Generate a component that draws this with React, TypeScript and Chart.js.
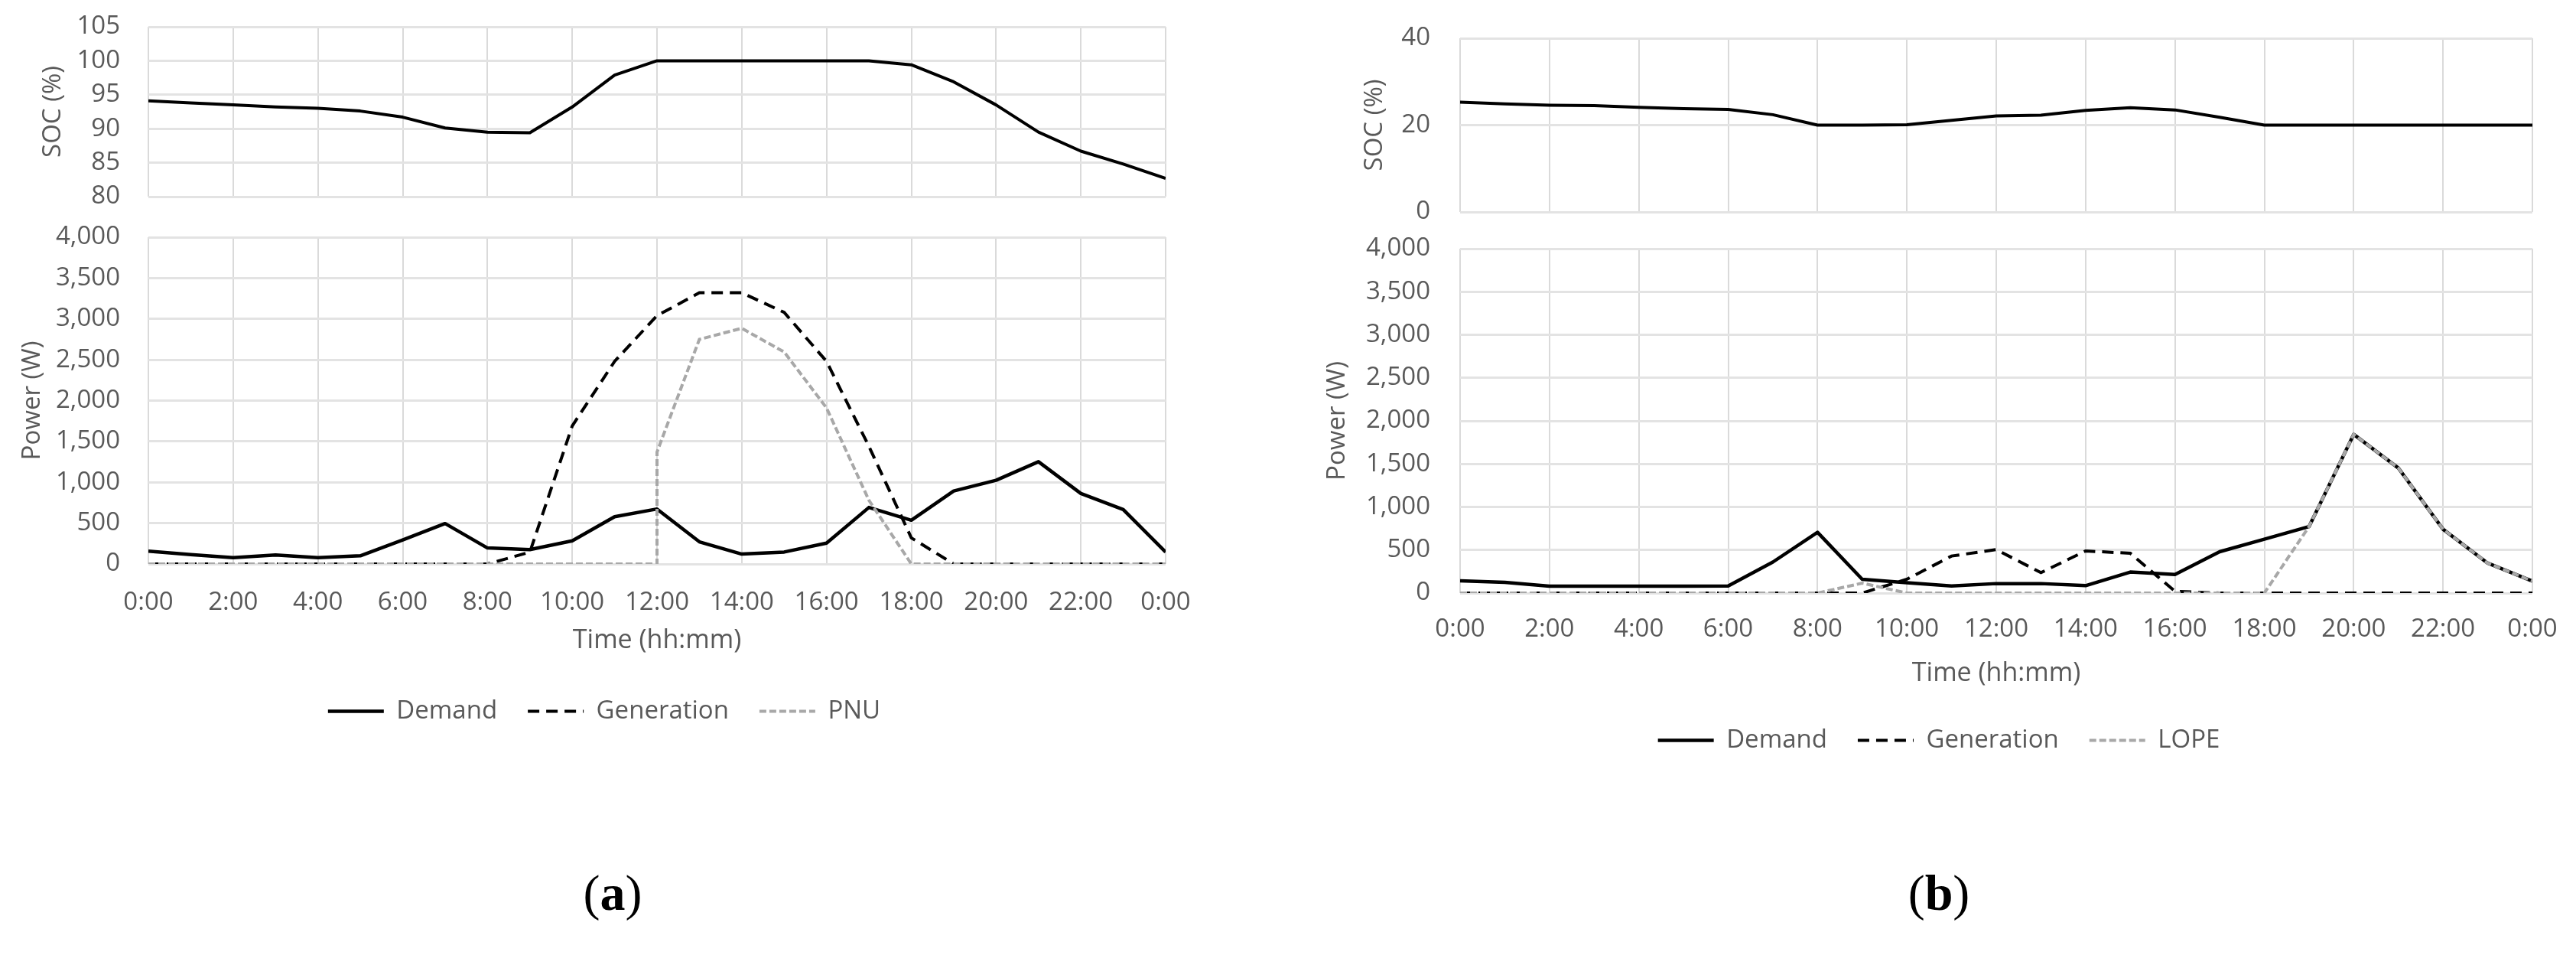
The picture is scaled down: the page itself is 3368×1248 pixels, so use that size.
import React, { useEffect, useRef } from 'react';
import { Chart, registerables } from 'chart.js';

Chart.register(...registerables);

// ---------- data ----------
const hours = [0, 1, 2, 3, 4, 5, 6, 7, 8, 9, 10, 11, 12, 13, 14, 15, 16, 17, 18, 19, 20, 21, 22, 23, 24];
const timeTickLabels = ['0:00', '2:00', '4:00', '6:00', '8:00', '10:00', '12:00', '14:00', '16:00', '18:00', '20:00', '22:00', '0:00'];

// Panel (a)
const socA = [94.1, 93.8, 93.5, 93.2, 93.0, 92.6, 91.7, 90.1, 89.5, 89.4, 93.2, 97.9, 100, 100, 100, 100, 100, 100, 99.4, 96.9, 93.5, 89.5, 86.7, 84.8, 82.7];
const demandA = [156, 115, 78, 109, 78, 100, 293, 495, 196, 175, 283, 579, 673, 271, 121, 146, 255, 692, 536, 894, 1025, 1252, 863, 667, 146];
const generationA = [0, 0, 0, 0, 0, 0, 0, 0, 0, 145, 1690, 2480, 3040, 3320, 3320, 3080, 2480, 1440, 320, 0, 0, 0, 0, 0, 0];
const pnuHoursA = [0, 1, 2, 3, 4, 5, 6, 7, 8, 9, 10, 11, 12, 12, 13, 14, 15, 16, 17, 18, 19, 20, 21, 22, 23, 24];
const pnuA = [0, 0, 0, 0, 0, 0, 0, 0, 0, 0, 0, 0, 0, 1370, 2750, 2885, 2595, 1910, 780, 0, 0, 0, 0, 0, 0, 0];

// Panel (b)
const socB = [25.3, 24.9, 24.6, 24.5, 24.1, 23.8, 23.6, 22.4, 20.0, 20.0, 20.1, 21.1, 22.1, 22.3, 23.4, 24.0, 23.5, 21.8, 20.0, 20, 20, 20, 20, 20, 20];
const demandB = [142, 124, 80, 80, 80, 80, 83, 360, 706, 160, 119, 83, 110, 110, 86, 244, 216, 480, 625, 772, 1843, 1452, 741, 347, 139];
const generationB = [0, 0, 0, 0, 0, 0, 0, 0, 0, 0, 160, 430, 505, 237, 489, 462, 20, 0, 0, 0, 0, 0, 0, 0, 0];
const lopeB = [0, 0, 0, 0, 0, 0, 0, 0, 0, 115, 0, 0, 0, 0, 0, 0, 0, 0, 0, 772, 1843, 1452, 741, 347, 139];

// ---------- styling ----------
const FONT = 'Open Sans';
const TEXT = '#595959';
const H_GRID = '#e3e3e3';
const V_GRID = '#dadada';

const toPts = (xs: number[], ys: number[]) => xs.map((x, i) => ({ x, y: ys[i] }));

type Geo = {
  padL: number; padR: number; padT: number; padB: number;
  yWidth: number; yTickPad: number; yTitlePad: number;
};

function xScale(showLabels: boolean, xHeight: number, xTickPad: number, xTitlePadB: number) {
  return {
    type: 'linear',
    min: 0,
    max: 24,
    border: { display: false },
    grid: { color: V_GRID, lineWidth: 2, drawTicks: false },
    ticks: {
      display: showLabels,
      stepSize: 2,
      autoSkip: false,
      maxRotation: 0,
      padding: xTickPad,
      color: TEXT,
      font: { family: FONT, size: 33 },
      callback: (_v: number, i: number) => timeTickLabels[i],
    },
    title: showLabels
      ? { display: true, text: 'Time (hh:mm)', color: TEXT, font: { family: FONT, size: 34 }, padding: { top: 0, bottom: xTitlePadB } }
      : { display: false },
    afterFit: (s: any) => { s.height = xHeight; },
  };
}

function yScale(min: number, max: number, step: number, title: string, g: Geo) {
  return {
    type: 'linear',
    min,
    max,
    border: { display: false },
    grid: { color: H_GRID, lineWidth: 3, drawTicks: false },
    ticks: {
      stepSize: step,
      padding: g.yTickPad,
      color: TEXT,
      font: { family: FONT, size: 33 },
      callback: (v: number) => Number(v).toLocaleString('en-US'),
    },
    title: { display: true, text: title, color: TEXT, font: { family: FONT, size: 33 }, padding: { top: g.yTitlePad, bottom: 0 } },
    afterFit: (s: any) => { s.width = g.yWidth; },
  };
}

function socConfig(values: number[], min: number, max: number, step: number, g: Geo): any {
  return {
    type: 'line',
    data: {
      datasets: [
        { label: 'SOC', data: toPts(hours, values), borderColor: '#000', borderWidth: 4, pointRadius: 0, tension: 0, borderJoinStyle: 'round' },
      ],
    },
    options: {
      animation: false,
      responsive: false,
      devicePixelRatio: 1,
      events: [],
      layout: { padding: { left: g.padL, right: g.padR, top: g.padT, bottom: g.padB } },
      plugins: { legend: { display: false }, tooltip: { enabled: false } },
      scales: {
        x: xScale(false, 0, 0, 0),
        y: yScale(min, max, step, 'SOC (%)', g),
      },
    },
  };
}

function powerConfig(
  demand: number[], generation: number[], thirdX: number[], third: number[], thirdLabel: string,
  g: Geo, xHeight: number, xTickPad: number, xTitlePadB: number,
): any {
  return {
    type: 'line',
    data: {
      datasets: [
        { label: 'Demand', data: toPts(hours, demand), borderColor: '#000', borderWidth: 4.5, borderDash: [], pointRadius: 0, tension: 0, order: 3, borderJoinStyle: 'round' },
        { label: 'Generation', data: toPts(hours, generation), borderColor: '#000', borderWidth: 4, borderDash: [15, 9], pointRadius: 0, tension: 0, order: 2 },
        { label: thirdLabel, data: toPts(thirdX, third), borderColor: '#a8a8a8', borderWidth: 4, borderDash: [9, 4], pointRadius: 0, tension: 0, order: 1 },
      ],
    },
    options: {
      animation: false,
      responsive: false,
      devicePixelRatio: 1,
      events: [],
      layout: { padding: { left: g.padL, right: g.padR, top: g.padT, bottom: g.padB } },
      plugins: {
        tooltip: { enabled: false },
        legend: {
          display: true,
          position: 'bottom',
          align: 'center',
          labels: {
            usePointStyle: true,
            pointStyle: 'line',
            pointStyleWidth: 73,
            padding: 40,
            color: TEXT,
            font: { family: FONT, size: 33 },
            generateLabels: (chart: any) =>
              chart.data.datasets.map((ds: any, i: number) => ({
                text: ds.label,
                fillStyle: ds.borderColor,
                strokeStyle: ds.borderColor,
                lineWidth: ds.borderWidth,
                lineDash: ds.borderDash || [],
                lineCap: 'butt',
                pointStyle: 'line',
                hidden: false,
                fontColor: TEXT,
                datasetIndex: i,
              })),
          },
        },
      },
      scales: {
        x: xScale(true, xHeight, xTickPad, xTitlePadB),
        y: yScale(0, 4000, 500, 'Power (W)', g),
      },
    },
  };
}

// ---------- components ----------
function ChartBox({ left, top, width, height, config }: { left: number; top: number; width: number; height: number; config: any }) {
  const ref = useRef<HTMLCanvasElement | null>(null);
  useEffect(() => {
    if (!ref.current) return;
    const chart = new Chart(ref.current, config);
    return () => chart.destroy();
  }, [config]);
  return (
    <div style={{ position: 'absolute', left, top, width, height }}>
      <canvas ref={ref} width={width} height={height} style={{ width, height, display: 'block' }} />
    </div>
  );
}

// Panel (a): plot x 194..1524; SOC y 35..257; power y 310..737
const socAConfig = socConfig(socA, 80, 105, 5, { padL: 56, padR: 66, padT: 60, padB: 60, yWidth: 138, yTickPad: 37, yTitlePad: -5.8 });
const powerAConfig = powerConfig(demandA, generationA, pnuHoursA, pnuA, 'PNU',
  { padL: 56, padR: 66, padT: 60, padB: 10, yWidth: 138, yTickPad: 37, yTitlePad: -32.8 }, 136, 31, 15);
// Panel (b): plot x 1909..3311; SOC y 50..277; power y 325..775
const socBConfig = socConfig(socB, 0, 40, 20, { padL: 59, padR: 66, padT: 60, padB: 60, yWidth: 150, yTickPad: 39, yTitlePad: 19.2 });
const powerBConfig = powerConfig(demandB, generationB, hours, lopeB, 'LOPE',
  { padL: 59, padR: 66, padT: 60, padB: 10, yWidth: 150, yTickPad: 39, yTitlePad: -29.8 }, 136, 28, 10.6);

function PanelLabel({ cx, cy, letter }: { cx: number; cy: number; letter: string }) {
  return (
    <div style={{ position: 'absolute', left: cx - 100, top: cy - 40, width: 200, height: 80, lineHeight: '80px', textAlign: 'center', fontFamily: '"Liberation Serif", serif', fontSize: 66, color: '#000' }}>
      <span>(</span><span style={{ fontWeight: 'bold' }}>{letter}</span><span>)</span>
    </div>
  );
}

export default function App() {
  return (
    <div style={{ position: 'absolute', left: 0, top: 0, width: 3368, height: 1248, background: '#fff', overflow: 'hidden' }}>
      <ChartBox left={0} top={-25} width={1590} height={342} config={socAConfig} />
      <ChartBox left={0} top={250} width={1590} height={716} config={powerAConfig} />
      <ChartBox left={1700} top={-10} width={1677} height={347} config={socBConfig} />
      <ChartBox left={1700} top={265} width={1677} height={739} config={powerBConfig} />
      <PanelLabel cx={801} cy={1167} letter="a" />
      <PanelLabel cx={2535} cy={1167} letter="b" />
    </div>
  );
}
